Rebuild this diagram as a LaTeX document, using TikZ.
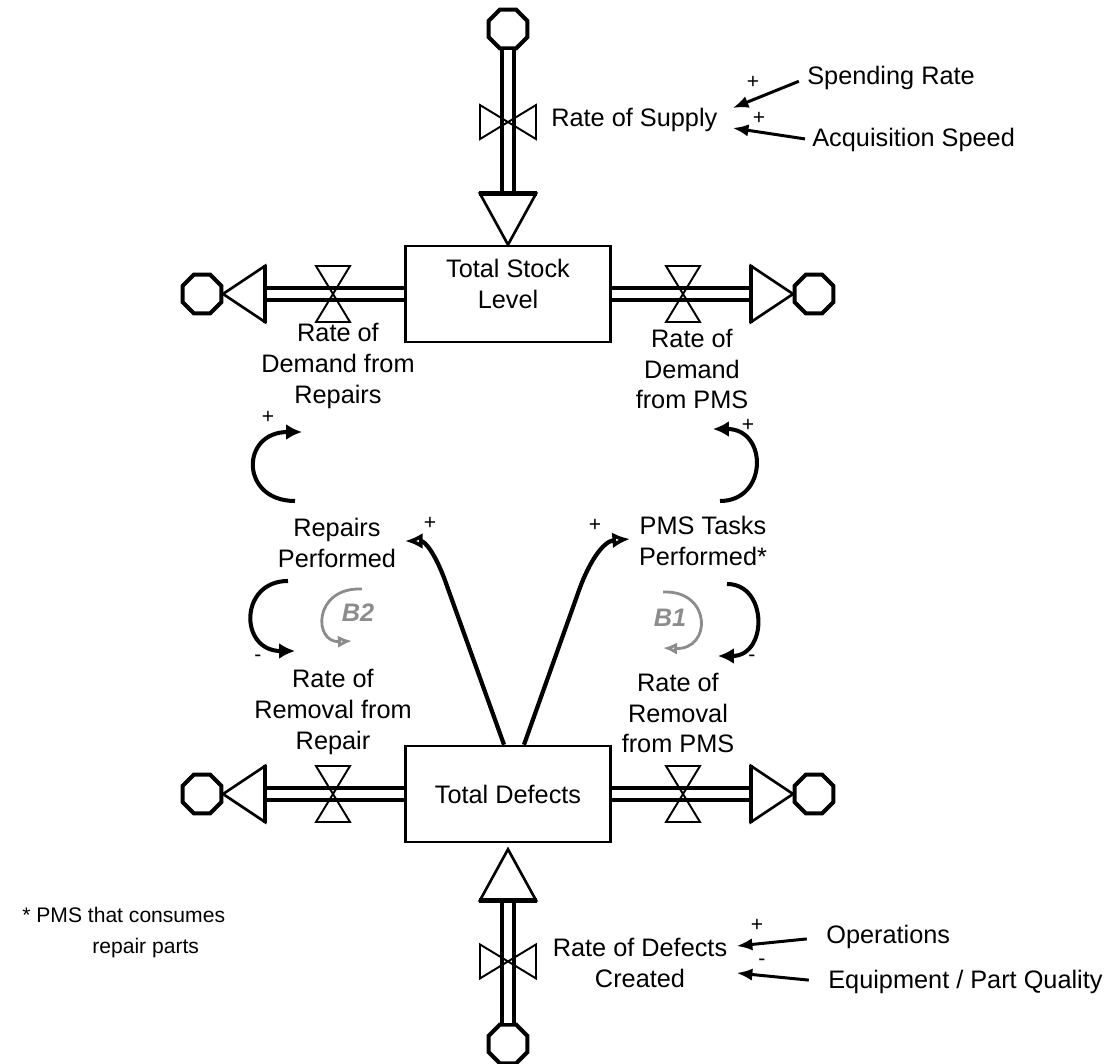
\documentclass[tikz,border=0pt]{standalone}
\usepackage{fontspec}
\setmainfont{Liberation Sans}
\usetikzlibrary{arrows.meta,calc,shapes.geometric,positioning}

\begin{document}
\begin{tikzpicture}[x=0.02cm, y=-0.02cm,
    every node/.style={font=\fontsize{14.4}{17.6}\selectfont, align=center, inner sep=0pt},
    stockbox/.style={draw, fill=white, line width=1.2pt, minimum width=4.1cm, minimum height=1.93cm},
    cloudbox/.style={draw, fill=white, regular polygon, regular polygon sides=8,
      minimum size=0.84cm, line width=2.3pt},
    pipe/.style={double=white, double distance=4pt, line width=2.3pt},
    tipline/.style={fill=white, line width=1.5pt, line join=miter},
    sign/.style={font=\fontsize{12}{14}\selectfont},
    link/.style={line width=1.7pt, -{Latex[length=9pt,width=7pt]}},
    clink/.style={line width=2.3pt, -{Latex[length=9pt,width=9pt]}},
    olink/.style={line width=2.4pt, -{Latex[open,length=10pt,width=9pt]}},
    loopline/.style={black!45, line width=1.6pt, -{Latex[open,length=8pt,width=7pt]}},
    looplabel/.style={black!45, font=\fontsize{14.4}{17.6}\selectfont\bfseries\itshape},
    valve/.pic={\draw[line width=1.1pt] (-17,-28) -- (17,-28) -- (-17,28) -- (17,28) -- cycle;}]
  \useasboundingbox (0,0) rectangle (1107,1064);

  % stocks
  \node[stockbox] (TS) at (508,294) {Total Stock\\Level\\[-6pt]\mbox{}};
  \node[stockbox] (TD) at (508,794) {Total Defects};

  % variables
  \node[anchor=west] (RS) at (551,120) {Rate of Supply};
  \node[anchor=west] (SR) at (807,78) {Spending Rate};
  \node[anchor=west] (AS) at (812,140) {Acquisition Speed};
  \node (RDR) at (338,366) {Rate of\\Demand from\\Repairs};
  \node (RDP) at (692,369) {Rate of\\Demand\\from PMS};
  \node (RP) at (337,543) {Repairs\\Performed};
  \node (PTP) at (703,541) {PMS Tasks\\Performed*};
  \node (RRR) at (333,712) {Rate of\\Removal from\\Repair};
  \node (RRP) at (678,713) {Rate of\\Removal\\from PMS};
  \node (RDC) at (640,963) {Rate of Defects\\Created};
  \node[anchor=west] (OP) at (826,937) {Operations};
  \node[anchor=west] (EQ) at (828,982) {Equipment / Part Quality};
  \node[anchor=west, align=left, font=\fontsize{12}{17.6}\selectfont] (FN) at (22,933)
    {* PMS that consumes\\\hspace*{1.4cm}repair parts};

  % polarities
  \node[sign] (p1) at (268,417) {+};
  \node[sign] (p2) at (748,425) {+};
  \node[sign] (p3) at (430,523) {+};
  \node[sign] (p4) at (595,525) {+};
  \node[sign] (m1) at (258,658) {-};
  \node[sign] (m2) at (752,658) {-};
  \node[sign] (p5) at (753,82) {+};
  \node[sign] (p6) at (759,118) {+};
  \node[sign] (p7) at (757,925) {+};
  \node[sign] (m3) at (762,962) {-};

  \node[looplabel] (B2) at (358,613) {B2};
  \node[looplabel] (B1) at (670,618) {B1};

  % flows in and out of the stocks
  \foreach \st/\an/\d/\i in {TS/west/-1/1, TS/east/1/2, TD/west/-1/3, TD/east/1/4}{
    \node[cloudbox] (cl\i) at ($(\st.center)+({306*\d},0)$) {};
    \coordinate (b\i) at ($(\st.center)+({243*\d},0)$);
    \draw[pipe] (\st.\an) -- (b\i);
    \draw[tipline] ($(b\i)+(0,-28)$) -- ($(\st.center)+({285*\d},0)$) -- ($(b\i)+(0,28)$) -- cycle;
    \draw[line width=2.6pt] ($(b\i)+(0,-29)$) -- ($(b\i)+(0,29)$);
    \pic at ($(\st.center)+({175*\d},0)$) {valve};
  }

  \node[cloudbox] (clT) at (508,29) {};
  \coordinate (bT) at ($(TS.north)+(0,-51)$);
  \draw[pipe] (clT.south) -- (bT);
  \draw[tipline] ($(bT)+(-28,0)$) -- (TS.north) -- ($(bT)+(28,0)$) -- cycle;
  \draw[line width=2.6pt] ($(bT)+(-29,0)$) -- ($(bT)+(29,0)$);
  \pic[rotate=90] at ($(bT)!0.5!(clT.south)$) {valve};

  \node[cloudbox] (clB) at (508,1044) {};
  \coordinate (bB) at ($(TD.south)+(0,57)$);
  \draw[pipe] (clB.north) -- (bB);
  \draw[tipline] ($(bB)+(-28,0)$) -- ($(TD.south)+(0,6)$) -- ($(bB)+(28,0)$) -- cycle;
  \draw[line width=2.6pt] ($(bB)+(-29,0)$) -- ($(bB)+(29,0)$);
  \pic[rotate=90] at ($(bB)!0.5!(clB.north)$) {valve};

  % links
  \draw[link, shorten <=5pt] (SR.west) -- ($(RS.east)+(15,-12)$);
  \draw[link, shorten <=4pt] (AS.west) -- ($(RS.east)+(15,8)$);
  \draw[link, shorten <=11pt] (OP.west) -- ($(RDC.east)+(9,-17)$);
  \draw[link, shorten <=11pt] (EQ.west) -- ($(RDC.east)+(9,10)$);

  \draw[clink] ($(RP)+(-42,-42)$) .. controls ($(RP)+(-97,-42)$) and ($(RDR)+(-98,66)$) .. ($(RDR)+(-36,66)$);
  \draw[clink] ($(PTP)+(17,-40)$) .. controls ($(PTP)+(65,-40)$) and ($(RDP)+(76,60)$) .. ($(RDP)+(21,60)$);
  \draw[clink] ($(RP)+(-49,38)$) .. controls ($(RP)+(-98,38)$) and ($(RRR)+(-94,-61)$) .. ($(RRR)+(-38,-61)$);
  \draw[clink] ($(PTP)+(24,43)$) .. controls ($(PTP)+(65,43)$) and ($(RRP)+(90,-57)$) .. ($(RRP)+(40,-57)$);

  \draw[olink] ($(TD.north)+(-4,0)$) -- ($(RP)+(110,43)$) .. controls ($(RP)+(99,11)$) and ($(RP)+(88,-2)$) .. ($(RP)+(68,-2)$);
  \draw[olink] ($(TD.north)+(16,0)$) -- ($(PTP)+(-126,55)$) .. controls ($(PTP)+(-115,22)$) and ($(PTP)+(-100,0)$) .. ($(PTP)+(-73,-2)$);

  % loop markers
  \draw[loopline] ($(B2)+(4,-24)$) .. controls ($(B2)+(-45,-26)$) and ($(B2)+(-45,30)$) .. ($(B2)+(-6,28)$);
  \draw[loopline] ($(B1)+(-7,-26)$) .. controls ($(B1)+(42,-28)$) and ($(B1)+(42,32)$) .. ($(B1)+(-7,30)$);
\end{tikzpicture}
\end{document}
